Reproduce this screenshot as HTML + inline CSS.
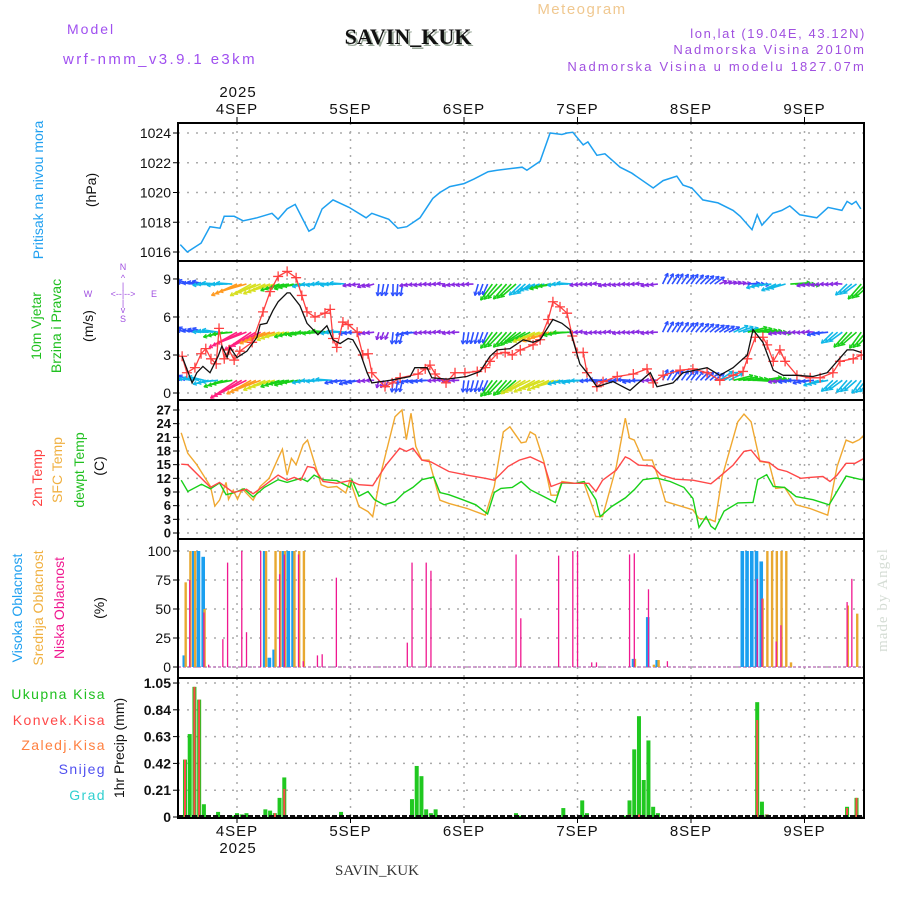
<!DOCTYPE html>
<html><head><meta charset="utf-8"><title>Meteogram SAVIN_KUK</title>
<style>
html,body{margin:0;padding:0;background:#fff;}
svg{display:block;font-family:"Liberation Sans",sans-serif;}
</style></head>
<body>
<svg id="chart" width="900" height="900" viewBox="0 0 900 900" xmlns="http://www.w3.org/2000/svg">
  <rect x="0" y="0" width="900" height="900" fill="#fff"/>
  <text x="67" y="34" font-size="14" fill="#a050f0" letter-spacing="2">Model</text>
  <text x="63" y="64" font-size="15" fill="#a050f0" letter-spacing="2.4">wrf-nmm_v3.9.1 e3km</text>
  <text x="408" y="44" font-size="22" font-weight="bold" font-family="Liberation Serif, serif" text-anchor="middle" fill="#9aa89a" transform="translate(2,2)">SAVIN_KUK</text>
  <text x="408" y="44" font-size="22" font-weight="bold" font-family="Liberation Serif, serif" text-anchor="middle" fill="#111">SAVIN_KUK</text>
  <text x="582" y="14" font-size="15" fill="#f0c890" text-anchor="middle" letter-spacing="1.5">Meteogram</text>
  <text x="866" y="38" font-size="13" fill="#a050e0" text-anchor="end" letter-spacing="1.6">lon,lat (19.04E, 43.12N)</text>
  <text x="866" y="54" font-size="13" fill="#a050e0" text-anchor="end" letter-spacing="2">Nadmorska Visina 2010m</text>
  <text x="866" y="71" font-size="13" fill="#a050e0" text-anchor="end" letter-spacing="2.2">Nadmorska Visina u modelu 1827.07m</text>
  <text x="238" y="97" font-size="15" text-anchor="middle" letter-spacing="1" fill="#111">2025</text>
  <text x="238" y="853" font-size="15" text-anchor="middle" letter-spacing="1" fill="#111">2025</text>
  <text x="377" y="875" font-size="15" text-anchor="middle" font-family="Liberation Serif, serif" fill="#333">SAVIN_KUK</text>
  <text transform="translate(887,600) rotate(-90)" font-size="15" text-anchor="middle" font-family="Liberation Serif, serif" fill="#d4dcd4" letter-spacing="1">made by Angel</text>

  <text transform="translate(43,190) rotate(-90)" font-size="14" fill="#20a0f0" text-anchor="middle">Pritisak na nivou mora</text>
  <text transform="translate(96,190) rotate(-90)" font-size="14" fill="#111" text-anchor="middle">(hPa)</text>
  <text transform="translate(41,326) rotate(-90)" font-size="14" fill="#20c020" text-anchor="middle">10m Vjetar</text>
  <text transform="translate(61,326) rotate(-90)" font-size="14" fill="#20c020" text-anchor="middle">Brzina i Pravac</text>
  <text transform="translate(93,326) rotate(-90)" font-size="14" fill="#111" text-anchor="middle">(m/s)</text>
  <g font-size="9" fill="#a050e0">
    <text x="123" y="270" text-anchor="middle">N</text>
    <text x="123" y="281" text-anchor="middle">^</text>
    <text x="123" y="289" text-anchor="middle">|</text>
    <text x="88" y="297" text-anchor="middle">W</text>
    <text x="123" y="297" text-anchor="middle">&lt;--|--&gt;</text>
    <text x="154" y="297" text-anchor="middle">E</text>
    <text x="123" y="306" text-anchor="middle">|</text>
    <text x="123" y="313" text-anchor="middle">v</text>
    <text x="123" y="322" text-anchor="middle">S</text>
  </g>
  <text transform="translate(42,478) rotate(-90)" font-size="14" fill="#ff4040" text-anchor="middle">2m Temp</text>
  <text transform="translate(62,470) rotate(-90)" font-size="14" fill="#f0b040" text-anchor="middle">SFC Temp</text>
  <text transform="translate(84,470) rotate(-90)" font-size="14" fill="#20c020" text-anchor="middle">dewpt Temp</text>
  <text transform="translate(104,466) rotate(-90)" font-size="14" fill="#111" text-anchor="middle">(C)</text>
  <text transform="translate(22,608) rotate(-90)" font-size="14" fill="#20a0f0" text-anchor="middle">Visoka Oblacnost</text>
  <text transform="translate(43,608) rotate(-90)" font-size="14" fill="#f0b040" text-anchor="middle">Srednja Oblacnost</text>
  <text transform="translate(64,608) rotate(-90)" font-size="14" fill="#f01890" text-anchor="middle">Niska Oblacnost</text>
  <text transform="translate(104,608) rotate(-90)" font-size="14" fill="#111" text-anchor="middle">(%)</text>
  <g font-size="14" text-anchor="end" letter-spacing="1.4">
    <text x="106" y="699" fill="#20c020">Ukupna  Kisa</text>
    <text x="106" y="725" fill="#ff4848">Konvek.Kisa</text>
    <text x="106" y="750" fill="#ff8040">Zaledj.Kisa</text>
    <text x="106" y="774" fill="#5050f0">Snijeg</text>
    <text x="106" y="800" fill="#30d0d0">Grad</text>
  </g>
  <text transform="translate(124,748) rotate(-90)" font-size="14" fill="#111" text-anchor="middle">1hr Precip (mm)</text>
  <g id="plot"></g>
</svg>
<script>
const dayLabels = ["4SEP","5SEP","6SEP","7SEP","8SEP","9SEP"];
const dayHours = [12,36,60,84,108,132];

const presHours = [0,1.5,4.4,6.3,8.4,9.3,11.4,13.3,16.2,19.4,20.7,22.6,24.3,27.2,28.3,30,32.3,35.7,39.3,40.5,44.1,46,47.9,50.7,53.4,54.9,57,60,62.1,65.1,67,72.3,73.3,76.1,78.2,80.7,81.8,83,85.2,86.2,88.1,89.8,93,95.5,100,102.1,105,106.3,108.2,110.5,113.7,116.9,118.4,120.9,122,123,125.3,127.2,128.9,131,134.6,137,139.9,141,142,142.9,143.9];
const presVals = [1016.5,1016.0,1016.6,1017.7,1017.6,1018.4,1018.4,1018.1,1018.3,1018.6,1018.2,1018.9,1019.2,1017.4,1017.6,1018.9,1019.5,1019.0,1018.3,1018.6,1018.2,1017.6,1017.7,1018.3,1019.6,1020.0,1020.4,1020.6,1020.9,1021.4,1021.5,1021.7,1021.5,1022.1,1024.0,1023.9,1024.0,1024.05,1023.2,1023.4,1022.5,1022.6,1021.7,1021.3,1020.3,1020.8,1021.1,1020.5,1020.3,1019.5,1019.3,1018.8,1018.4,1017.5,1018.5,1017.8,1018.6,1018.8,1019.1,1018.5,1018.3,1019.0,1018.8,1019.4,1019.2,1019.4,1018.9];

const windHours = [0.4,2.5,3.5,4.8,6.3,8,8.8,9.9,10.5,12,14.1,16.2,16.9,18.3,19.6,20.7,22.6,23.2,25.3,26.8,29.1,31,32.3,33.8,35.5,36.5,38,39.5,40.5,44.4,48.6,49.6,52.2,53.2,56.4,60.6,63.4,65.5,67,69.7,72.5,74.6,76.1,78.8,80.7,82.4,84.5,86,88.1,91.5,95.1,96.6,99.4,100.8,104.2,106.3,111.4,114.1,116.9,119.9,121.1,123.2,125.4,127.5,130.4,133.8,136.8,141,142.3,144];
const windVals = [2.9,0.8,1.6,2.1,1.6,2.9,3.7,2.8,3.6,2.8,3.3,4.4,5.4,5.5,6.5,7.2,7.9,7.9,6.9,5.5,4.6,5.3,4.2,3.9,4.3,4.2,3.2,1.6,0.8,1.0,1.3,2.0,2.0,1.2,1.1,1.3,1.7,2.9,3.4,3.5,4.2,4.0,4.2,5.8,5.5,5.0,2.3,1.6,0.5,0.9,0.2,0.7,1.6,0.5,0.8,1.6,2.0,1.4,2.0,3.0,5.0,4.0,1.8,1.4,1.4,1.3,1.6,3.4,3.4,3.2];

const gustHours = [0.4,1.4,3.1,4.4,5.4,6.5,7.6,8.2,9.3,10.3,11.4,12.6,15.2,17.5,19,20.7,22.6,24.5,25.7,26.8,28.5,30.6,31.7,32.3,33.1,34.4,35.5,37.4,38.6,39.7,40.5,43.3,44.8,46.5,50.3,51.8,52.8,53.9,56.2,58.1,60.2,62.8,64.5,65.5,67,68.7,70.2,71.9,74.6,76.1,77.8,78.8,80.3,81.8,82.9,83.9,85.2,86,88.1,89.4,92.4,95.8,98.7,100,102.1,105.7,108.4,111.4,114.1,116.9,119,119.9,121.6,123.2,124.1,125.4,126.8,127.9,130.4,133.2,135.3,138,139.5,142.3,144];
const gustVals = [2.9,1.6,2.0,3.1,3.5,2.7,2.3,5.1,2.7,3.4,2.6,3.3,4.0,6.4,8.0,9.2,9.6,9.1,7.7,6.4,6.0,6.3,6.6,4.3,3.6,5.6,5.4,4.8,3.0,3.1,1.6,0.5,0.8,1.2,1.5,1.9,2.2,1.5,0.8,1.6,1.6,1.7,2.0,2.5,3.1,3.2,3.0,3.4,3.8,4.2,5.8,7.2,6.8,6.3,4.5,3.2,3.2,1.6,0.5,0.9,1.3,1.5,1.9,0.8,1.4,1.8,1.9,1.6,1.0,1.4,1.7,2.7,4.4,4.4,3.8,2.5,3.4,2.5,1.4,1.2,1.2,1.6,2.5,2.7,3.0];

const arrowHourStep = 3;
const arrowLevels = [8.6, 4.8, 1.0];
const arrowTopSpd = [1,1,2,2,5,4,4,3,3,2,2,2,0,0,1,1,0,0,0,0,0,1,3,3,2,2,3,2,0,0,0,0,0,0,1,1,1,1,0,0,1,2,2,3,0,0,0,2,3];
const arrowTopDir = [195,190,180,180,160,155,160,165,170,175,180,180,170,160,100,95,170,175,180,170,175,110,130,135,140,160,170,180,175,180,170,175,180,170,300,305,310,320,340,350,0,170,160,0,170,175,180,140,135];
const arrowMidSpd = [1,1,2,3,6,6,5,4,3,3,3,2,1,0,0,1,1,0,0,0,1,1,3,3,3,4,5,3,0,0,0,0,0,0,1,1,1,1,1,2,3,3,0,0,0,1,2,3,3];
const arrowMidDir = [200,195,185,170,155,150,160,165,170,175,180,180,175,170,110,100,170,175,180,175,100,110,130,135,150,160,165,175,180,175,180,175,180,175,300,305,310,320,330,340,350,0,170,175,180,170,140,135,130];
const arrowLowSpd = [1,2,2,3,6,5,4,3,3,2,2,1,1,0,0,1,1,1,0,0,1,1,3,3,4,4,4,2,2,1,1,1,1,0,1,1,1,1,2,3,3,3,0,1,1,2,2,2,2];
const arrowLowDir = [200,190,170,165,150,155,160,165,170,175,180,170,165,175,110,100,170,175,180,175,100,110,130,135,150,155,160,170,175,180,175,180,175,180,300,305,310,320,330,350,0,355,170,175,170,165,140,135,130];

const t2Hours = [0.2,1.6,6.4,8.3,11.2,14,15.4,17.8,20.7,22.6,24.1,25.5,26.9,28.3,30.2,33.1,35.9,37.8,40.7,43.5,46.4,47.8,49.2,51.1,53,56.8,60.6,64.5,66.4,69.3,71.7,74,76.9,78.4,80.7,83.5,86.4,87.9,89.3,92.2,94.1,95,96.9,99.8,101.7,104.6,108.4,112.2,113.5,116.9,119.2,120.7,122.6,124.5,126.4,128.3,131.2,133.1,135.9,137.4,138.9,140.8,142.7,145];
const t2Vals = [15.1,15.0,10.0,11.1,8.9,9.6,8.6,10.4,12.7,11.6,12.2,11.6,14.6,14.3,11.3,10.9,11.5,10.6,10.4,14.9,18.6,17.9,18.6,16.0,15.6,13.5,12.7,12.0,11.6,14.6,16.0,16.7,15.3,10.2,11.1,10.9,10.9,9.1,11.6,13.8,16.7,16.3,14.9,14.7,12.7,11.8,11.6,10.8,11.9,14.9,17.9,18.2,15.8,15.5,14.0,13.5,12.0,12.2,12.4,11.3,12.7,15.3,15.3,16.6];

const sfcHours = [0.2,1.6,3.5,6.4,7.3,8.3,9.7,10.2,11.2,12.1,13.1,15.4,16.9,18.8,20.7,21.6,22.6,23.5,24.5,26,26.9,28.3,29.8,31.2,33.1,35,35.9,37.8,39.7,40.7,42.6,45.4,46.9,47.8,48.8,49.8,51.1,52.6,54.9,56.8,60.6,64.5,66.4,68.3,69.7,72.1,73.1,74,75.1,76.9,78.4,79.7,80.7,83.5,85.4,87.9,89.3,92.2,94.1,95,96,97.9,99.8,101.3,102.6,108.4,109.7,112.2,113.1,114.6,117.9,119.2,120.7,122.6,124.5,125.9,127.8,130.2,133.1,136.9,138.9,140.8,142.2,143.6,145.5];
const sfcVals = [22.0,17.5,15.0,10.2,5.9,7.2,11.1,7.4,9.4,7.4,9.7,7.2,10.2,12.0,16.4,18.4,12.7,16.4,15.0,19.4,20.4,15.7,10.6,10.0,10.2,8.8,11.6,5.8,4.7,3.6,13.8,25.5,27.0,20.5,26.3,19.0,16.0,16.0,7.2,6.5,5.4,3.9,10.2,22.2,23.3,19.8,20.0,22.2,21.5,15.7,8.3,8.3,11.3,10.9,10.9,3.6,3.6,14.6,25.2,20.8,20.4,16.0,16.0,11.6,6.9,5.1,3.2,2.9,2.5,12.4,24.4,26.1,24.4,15.7,15.4,9.8,10.0,6.2,5.4,3.9,14.6,20.4,19.8,20.5,22.4];

const dewHours = [0.2,1.6,4.5,6.4,8.3,9.7,11.2,13.5,15.4,17.8,20.7,22.6,25.5,26.9,28.3,30.2,33.1,35.9,36.3,37.8,39.7,41.1,43.1,45.4,47.3,49.2,51.1,53.6,54.9,56.8,59.7,62.5,65,66.4,67.8,70.2,72.1,74,76.9,79.3,80.7,83.5,85.4,87.9,88.8,91.2,94.1,96,97.9,100.7,103.6,106.5,108.4,109.7,111.2,112.2,113.1,115,117.9,121.1,122.1,124,125.4,127.8,130.2,133.8,137.2,140.8,143.6,145.5];
const dewVals = [11.6,9.1,10.7,9.7,11.0,8.4,8.8,9.7,7.9,10.0,11.7,11.1,12.0,11.3,12.7,11.7,11.5,10.0,11.7,8.1,9.1,7.3,6.2,6.9,8.8,10.0,11.7,12.3,8.9,8.4,7.3,6.2,4.2,8.9,9.8,10.0,11.3,9.5,8.0,6.7,11.0,10.9,11.3,7.3,3.6,5.8,7.7,9.5,11.7,12.1,11.3,10.0,7.6,1.2,3.6,1.5,0.8,4.8,6.6,6.7,11.7,12.8,10.2,10.0,8.0,7.3,6.2,12.5,11.8,11.5];

const cloudHighHours = [1,3,4,5,18,19,20,22,23,24,96,99,101,119,120,121,122,123];
const cloudHighVals = [10,100,100,95,100,8,15,100,100,100,7,43,6,100,100,100,100,91];
const cloudMidHours = [1,2,3,5,18,20,21,22,24,25,26,96,100,101,123,124,125,126,127,128,129,141,143];
const cloudMidVals = [73,100,100,50,100,100,100,100,100,100,100,7,2,6,59,100,100,100,100,100,4,53,46];
const cloudLowHours = [2,5,6,9,10,13,14,17,21,22,25,26,29,30,33,48,49,52,53,71,72,80,83,84,87,88,95,96,99,103,122,123,126,127,141,142];
const cloudLowVals = [75,47,2,24,90,100,30,100,80,97,97,5,10,11,77,21,90,90,83,97,42,96,100,100,4,4,97,98,67,5,76,59,22,36,56,76];

const precipHours = [1,2,3,4,5,8,11,12,13,14,18,19,20,21,22,34,49,50,51,52,53,54,71,72,81,85,86,94,95,96,97,98,99,100,101,122,123,124,141,143];
const precipTotal = [0.45,0.65,1.02,0.92,0.10,0.04,0.01,0.03,0.02,0.03,0.06,0.05,0.03,0.15,0.31,0.04,0.14,0.40,0.32,0.06,0.03,0.06,0.03,0.01,0.07,0.13,0.03,0.01,0.13,0.53,0.79,0.29,0.60,0.08,0.03,0.90,0.12,0.02,0.08,0.15];
const convHours = [1,3,4,20,22,95,97,122,124,141,143];
const convVals = [0.45,1.02,0.92,0.03,0.22,0.02,0.02,0.76,0.02,0.07,0.15];

const presTicks = [1016,1018,1020,1022,1024];
const windTicks = [0,3,6,9];
const tempTicks = [0,3,6,9,12,15,18,21,24,27];
const cloudTicks = [0,25,50,75,100];
const precipTicks = [0,0.21,0.42,0.63,0.84,1.05];
const precipTickLabels = ["0","0.21","0.42","0.63","0.84","1.05"];

const X0 = 178, X1 = 864;
function xOf(h){ return 237 + (h - 12) * 113.5 / 24; }
const panels = [
  {name:'pressure', top:123, bot:261, y:function(v){return 252 - (v - 1016) * 14.875;}},
  {name:'wind', top:261, bot:400, y:function(v){return 393 - v * 12.67;}},
  {name:'temperature', top:400, bot:539, y:function(v){return 533 - v * 4.556;}},
  {name:'cloud', top:539, bot:678, y:function(v){return 667 - v * 1.16;}},
  {name:'precip', top:678, bot:818, y:function(v){return 817 - v * 127.6;}}
];
const NS = 'http://www.w3.org/2000/svg';
const plot = document.getElementById('plot');
function mk(tag, attrs, parent){
  const e = document.createElementNS(NS, tag);
  for (const k in attrs) e.setAttribute(k, attrs[k]);
  (parent || plot).appendChild(e);
  return e;
}
const defs = mk('defs', {});
panels.forEach(function(p){
  const cp = mk('clipPath', {id:'clip-' + p.name}, defs);
  mk('rect', {x:X0, y:p.top, width:X1 - X0, height:p.bot - p.top}, cp);
});

const tickSets = [presTicks, windTicks, tempTicks, cloudTicks, precipTicks];
panels.forEach(function(p, pi){
  const g = mk('g', {});
  
  
  tickSets[pi].forEach(function(t, ti){
    const y = p.y(t);
    const gl = mk('line', {x1:X0, x2:X1, y1:y, y2:y, stroke:'#aaa', 'stroke-width':1.5, 'stroke-dasharray':'2 7'}, g);
    
    
    mk('line', {x1:X0 - 5, x2:X0, y1:y, y2:y, stroke:'#000', 'stroke-width':1}, g);
    const lab = pi === 4 ? precipTickLabels[ti] : String(t);
    const isTemp = pi === 2;
    const tx = mk('text', {x:X0 - 7, y:y + (isTemp ? 4.5 : 5), 'font-size': isTemp ? 13 : 14, 'font-weight': (isTemp || pi === 4) ? 'bold' : 'normal', 'text-anchor':'end', fill:'#111'}, g);
    
    
    tx.textContent = lab;
  });
  dayHours.forEach(function(h){
    const x = xOf(h);
    const vl = mk('line', {x1:x, x2:x, y1:p.top, y2:p.bot, stroke:'#aaa', 'stroke-width':1.5, 'stroke-dasharray':'2 6'}, g);
    
    
  });
});
dayLabels.forEach(function(lbl, i){
  const x = xOf(dayHours[i]);
  const t1 = mk('text', {x:x, y:114, 'font-size':15, 'text-anchor':'middle', 'letter-spacing':1, fill:'#111'});
  
  
  t1.textContent = lbl;
  mk('line', {x1:x, x2:x, y1:117, y2:123, stroke:'#000'});
  const t2 = mk('text', {x:x, y:836, 'font-size':15, 'text-anchor':'middle', 'letter-spacing':1, fill:'#111'});
  
  
  t2.textContent = lbl;
  mk('line', {x1:x, x2:x, y1:818, y2:823, stroke:'#000'});
});

function linePath(hours, vals, yf){
  return hours.map(function(h, i){ return (i ? 'L' : 'M') + xOf(h).toFixed(1) + ' ' + yf(vals[i]).toFixed(1); }).join(' ');
}

const pp = mk('path', {d:linePath(presHours, presVals, panels[0].y), fill:'none', stroke:'#1ea0f0', 'stroke-width':1.5, 'clip-path':'url(#clip-pressure)'});



const arrowColors = ['#8a2be2','#2c50ff','#10b8e8','#18d018','#d8e020','#ff9a20','#ff2080'];
const arrowSets = [[arrowTopSpd, arrowTopDir],[arrowMidSpd, arrowMidDir],[arrowLowSpd, arrowLowDir]];
const wg = mk('g', {'clip-path':'url(#clip-wind)'});


arrowSets.forEach(function(set, li){
  const y0 = panels[1].y(arrowLevels[li]);
  set[0].forEach(function(s, i){
    const h = i * arrowHourStep;
    const col = arrowColors[s];
    const len = 8 + s * 4;
    for (let k = 0; k < 3; k++) {
      const x0 = xOf(h + k);
      const a = (set[1][i] + (k - 1) * 4) * Math.PI / 180;
      const x2 = x0 + len * Math.cos(a), y2 = y0 + len * Math.sin(a);
      const ln = mk('line', {x1:x0, y1:y0, x2:x2, y2:y2, stroke:col, 'stroke-width':1.6}, wg);
      
      
      const ha = a + Math.PI;
      mk('line', {x1:x2, y1:y2, x2:x2 + 4 * Math.cos(ha + 0.5), y2:y2 + 4 * Math.sin(ha + 0.5), stroke:col, 'stroke-width':1.2}, wg);
      mk('line', {x1:x2, y1:y2, x2:x2 + 4 * Math.cos(ha - 0.5), y2:y2 + 4 * Math.sin(ha - 0.5), stroke:col, 'stroke-width':1.2}, wg);
    }
  });
});
const gp = mk('path', {d:linePath(gustHours, gustVals, panels[1].y), fill:'none', stroke:'#ff4040', 'stroke-width':1.3, 'clip-path':'url(#clip-wind)'});


const gm = mk('g', {stroke:'#ff4040', 'stroke-width':1.3, 'clip-path':'url(#clip-wind)'});


gustHours.forEach(function(h, i){
  const x = xOf(h), y = panels[1].y(gustVals[i]);
  mk('path', {d:'M' + (x - 5) + ' ' + y + 'H' + (x + 5) + 'M' + x + ' ' + (y - 5) + 'V' + (y + 5)}, gm);
});
const wp = mk('path', {d:linePath(windHours, windVals, panels[1].y), fill:'none', stroke:'#111', 'stroke-width':1.3, 'clip-path':'url(#clip-wind)'});



const sp = mk('path', {d:linePath(sfcHours, sfcVals, panels[2].y), fill:'none', stroke:'#f0a830', 'stroke-width':1.4, 'clip-path':'url(#clip-temperature)'});


const dp = mk('path', {d:linePath(dewHours, dewVals, panels[2].y), fill:'none', stroke:'#18d018', 'stroke-width':1.4, 'clip-path':'url(#clip-temperature)'});


const tp = mk('path', {d:linePath(t2Hours, t2Vals, panels[2].y), fill:'none', stroke:'#ff4848', 'stroke-width':1.4, 'clip-path':'url(#clip-temperature)'});



const cy = panels[3].y;
const base = mk('line', {x1:X0, x2:X1, y1:cy(0), y2:cy(0), stroke:'#c080c0', 'stroke-width':1.5, 'stroke-dasharray':'3 2'});


cloudHighHours.forEach(function(h, i){
  const r = mk('rect', {x:xOf(h) - 2.5, y:cy(cloudHighVals[i]), width:3.6, height:cy(0) - cy(cloudHighVals[i]), fill:'#1a9ff0'});
  
  
});
cloudMidHours.forEach(function(h, i){
  const r = mk('rect', {x:xOf(h) - 0.5, y:cy(cloudMidVals[i]), width:2.4, height:cy(0) - cy(cloudMidVals[i]), fill:'#e8a830'});
  
  
});
cloudLowHours.forEach(function(h, i){
  const r = mk('rect', {x:xOf(h) - 0.6, y:cy(cloudLowVals[i]), width:1.3, height:cy(0) - cy(cloudLowVals[i]), fill:'#f01890'});
  
  
});

const py = panels[4].y;
precipHours.forEach(function(h, i){
  const r = mk('rect', {x:xOf(h) - 2, y:py(precipTotal[i]), width:4, height:py(0) - py(precipTotal[i]), fill:'#20c820'});
  
  
});
convHours.forEach(function(h, i){
  const r = mk('rect', {x:xOf(h) - 1, y:py(convVals[i]), width:2, height:py(0) - py(convVals[i]), fill:'#ff4848'});
  
  
});
const pb = mk('line', {x1:X0, x2:X1, y1:816, y2:816, stroke:'#111', 'stroke-width':2, 'stroke-dasharray':'5 2'});



panels.forEach(function(p){
  const f = mk('rect', {x:X0, y:p.top, width:X1 - X0, height:p.bot - p.top, fill:'none', stroke:'#000', 'stroke-width':2});
  
  
});
</script>
</body></html>
